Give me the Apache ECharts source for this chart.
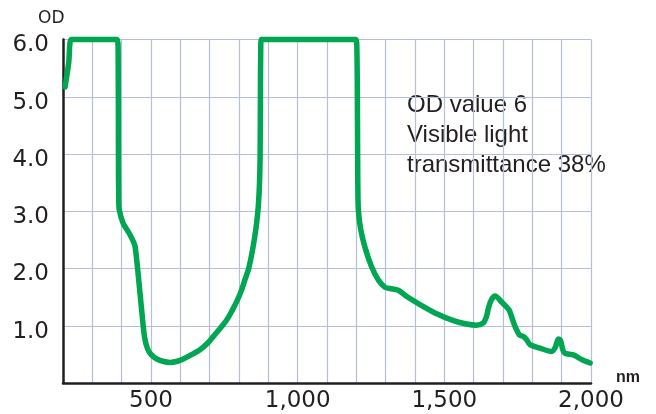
<!DOCTYPE html>
<html>
<head>
<meta charset="utf-8">
<script src="https://cdn.jsdelivr.net/npm/echarts@6/dist/echarts.min.js"></script>
<style>html,body{margin:0;padding:0;background:#fff;}#c{width:656px;height:414px;}</style>
</head>
<body>
<div id="c"></div>
<script>
// wavelength (nm) and optical density values
var wavelengths = [207,214,220,224,230,384,388,389,390,392,405,425,440,446,457,468,478,488,500,519,540,565,590,610,640,667,690,712,735,758,775,792,807,820,833,843,852,860,866,870,872,873,874,876,1198,1202,1204,1205,1207,1215,1230,1252,1275,1298,1315,1343,1372,1417,1474,1531,1576,1610,1633,1643,1650,1660,1673,1696,1720,1728,1741,1756,1770,1780,1792,1826,1866,1878,1889,1896,1904,1911,1940,1968,1997];
var odValues = [5.17,5.4,5.62,5.95,6.0,6.0,5.8,4.0,3.2,3.02,2.79,2.62,2.47,2.38,1.86,1.28,0.8,0.6,0.5,0.42,0.38,0.36,0.38,0.42,0.5,0.58,0.68,0.81,0.95,1.10,1.25,1.42,1.6,1.80,2.0,2.24,2.5,2.79,3.1,3.5,4.0,5.0,5.8,6.0,6.0,5.8,4.5,3.5,3.02,2.68,2.36,2.03,1.80,1.67,1.65,1.62,1.51,1.37,1.21,1.09,1.03,1.01,1.05,1.15,1.3,1.45,1.52,1.41,1.28,1.18,0.99,0.84,0.81,0.76,0.67,0.61,0.55,0.62,0.77,0.74,0.58,0.52,0.49,0.41,0.35];
var xLabeled = [500, 1000, 1500, 2000];
var yLabeled = [1, 2, 3, 4, 5, 6];
var annotationLines = ['OD value 6', 'Visible light', 'transmittance 38%'];

var seriesData = wavelengths.map(function (w, i) { return [w, odValues[i]]; });
var chart = echarts.init(document.getElementById('c'), null, {renderer: 'canvas'});
var gridColor = '#b7bfd6';
var dark = '#231f20';
chart.setOption({
  animation: false,
  grid: {left: 63, right: 65, top: 39.5, bottom: 31, containLabel: false},
  xAxis: {
    type: 'value', min: 200, max: 2000, interval: 100,
    axisLine: {show: true, lineStyle: {color: dark, width: 2.5}},
    axisTick: {show: false},
    splitLine: {show: true, lineStyle: {color: gridColor, width: 1.2}},
    axisLabel: {
      fontFamily: 'DejaVu Sans', fontSize: 23, color: dark, margin: 7,
      formatter: function (v) { return xLabeled.indexOf(v) >= 0 ? v.toLocaleString('en-US') : ''; }
    }
  },
  yAxis: {
    type: 'value', min: 0, max: 6, interval: 1,
    axisLine: {show: true, lineStyle: {color: dark, width: 2.5}},
    axisTick: {show: false},
    splitLine: {show: true, lineStyle: {color: gridColor, width: 1.2}},
    axisLabel: {
      margin: 14,
      formatter: function (v) { return yLabeled.indexOf(v) >= 0 ? '{t|' + v.toFixed(1) + '}' : ''; },
      rich: {t: {fontFamily: 'DejaVu Sans', fontSize: 23, color: dark, lineHeight: 23, padding: [12, 0, 0, 0]}}
    }
  },
  graphic: [{
    type: 'text', left: 38, top: 10, silent: true,
    style: {text: 'OD', font: '17px "DejaVu Sans"', fill: dark}
  }, {
    type: 'text', left: 407, top: 90, silent: true,
    style: {text: annotationLines.join('\n'), font: '24px "Liberation Sans"', lineHeight: 30, fill: dark}
  }, {
    type: 'text', left: 616, top: 370, silent: true,
    style: {text: 'nm', font: 'bold 16px "Liberation Sans"', fill: dark}
  }],
  series: [{
    type: 'line', data: seriesData, showSymbol: false, symbol: 'none',
    smooth: 0.3,
    lineStyle: {color: '#00a651', width: 5.5, cap: 'round', join: 'round'},
    clip: false
  }]
});
</script>
</body>
</html>
